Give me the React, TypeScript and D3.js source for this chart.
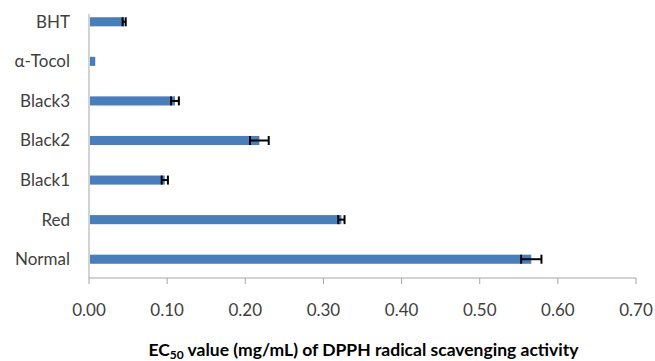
import React from 'react';
import * as d3 from 'd3';

const categories = ['BHT', 'α-Tocol', 'Black3', 'Black2', 'Black1', 'Red', 'Normal'];
const values = [0.045, 0.008, 0.11, 0.218, 0.097, 0.323, 0.566];
const errors = [0.002, 0.0005, 0.005, 0.012, 0.004, 0.004, 0.013];
const ticks = [0, 0.1, 0.2, 0.3, 0.4, 0.5, 0.6, 0.7];

const App: React.FC = () => {
  const width = 655;
  const height = 361;
  const margin = { left: 89, right: 19, axisTop: 14, axisY: 278 };

  const xScale = d3.scaleLinear().domain([0, 0.7]).range([margin.left, width - margin.right]);
  // bands centred on each step
  const yScale = d3.scaleBand().domain(categories).range([2, 279]).paddingInner(0.77).paddingOuter(0.385);
  const font = "Lato, 'Open Sans', sans-serif";

  return (
    <svg width={width} height={height} style={{ position: 'absolute', left: 0, top: 0, background: '#fff' }}>
      {/* axes */}
      <line x1={margin.left} x2={margin.left} y1={margin.axisTop} y2={margin.axisY} stroke="#a6a6a6" strokeWidth={1} />
      <line x1={margin.left} x2={xScale(0.7)} y1={margin.axisY} y2={margin.axisY} stroke="#a6a6a6" strokeWidth={1} />
      {ticks.map((t) => (
        <g key={t}>
          <line x1={xScale(t)} x2={xScale(t)} y1={margin.axisY} y2={margin.axisY + 6} stroke="#a6a6a6" />
          <text x={xScale(t)} y={316} textAnchor="middle" fontFamily={font} fontSize={17} fill="#404040">
            {d3.format('.2f')(t)}
          </text>
        </g>
      ))}

      {/* bars */}
      {categories.map((c, i) => {
        const cy = yScale(c)! + yScale.bandwidth() / 2;
        const lo = xScale(values[i] - errors[i]);
        const hi = xScale(values[i] + errors[i]);
        return (
          <g key={c}>
            <text x={70} y={cy} dy="0.35em" textAnchor="end" fontFamily={font} fontSize={17} fill="#404040">
              {c}
            </text>
            <rect x={xScale(0) + 1} y={yScale(c)!} width={xScale(values[i]) - xScale(0) - 1} height={yScale.bandwidth()} fill="#4a7ebb" />
            {errors[i] > 0.001 && (
              <g stroke="#000" strokeWidth={2}>
                <line x1={lo} x2={hi} y1={cy} y2={cy} />
                <line x1={lo} x2={lo} y1={cy - 4.5} y2={cy + 4.5} />
                <line x1={hi} x2={hi} y1={cy - 4.5} y2={cy + 4.5} />
              </g>
            )}
          </g>
        );
      })}

      {/* axis title */}
      <text x={(144 + 583) / 2} y={356} textAnchor="middle" fontFamily={font} fontSize={17.5} fontWeight="bold" fill="#000">
        EC<tspan fontSize={12} dy={3}>50</tspan>
        <tspan dy={-3}> value (mg/mL) of DPPH radical scavenging activity</tspan>
      </text>
    </svg>
  );
};

export default App;
